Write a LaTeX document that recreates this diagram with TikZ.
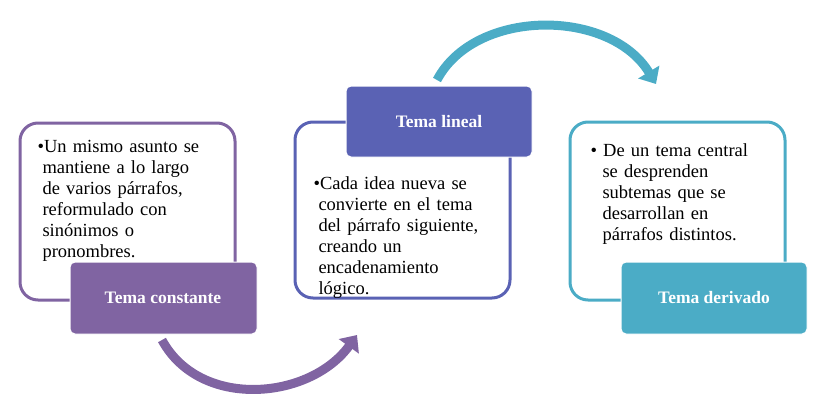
\documentclass[tikz,border=0pt]{standalone}
\usepackage{fontspec}
\setmainfont{Liberation Serif}
\usetikzlibrary{arrows.meta}
\definecolor{cpur}{HTML}{8064A2}
\definecolor{cblu}{HTML}{5A62B4}
\definecolor{ccya}{HTML}{4BACC6}
\begin{document}
\begin{tikzpicture}[x=1pt,y=-1pt,
 outer/.style={draw=#1,line width=3pt,rounded corners=18pt,fill=white},
 lab/.style={fill=#1,draw=white,line width=1pt,rounded corners=5pt},
 labt/.style={text=white,font=\bfseries\fontsize{17.5}{20}\selectfont},
 body/.style={align=left,anchor=north west,text width=190pt,font=\fontsize{18.5}{21}\selectfont},
 arc/.style={line width=9pt,#1,-{Triangle[length=14pt,width=24pt]}}]
\useasboundingbox (0,0) rectangle (831,400);
% box 1
\path[outer=cpur] (20,123) rectangle (235,300);
\node[body] (t1) at (34,137) {\textbullet Un mismo asunto se\\\hspace*{5pt}mantiene a lo largo\\\hspace*{5pt}de varios párrafos,\\\hspace*{5pt}reformulado con\\\hspace*{5pt}sinónimos o\\\hspace*{5pt}pronombres.};
\path[lab=cpur] (70,262) rectangle (257,334);
\node[labt] (l1) at (163,298) {Tema constante};
% box 2
\path[outer=cblu] (295,122) rectangle (510,298);
\node[body] (t2) at (310,173) {\textbullet Cada idea nueva se\\\hspace*{5pt}convierte en el tema\\\hspace*{5pt}del párrafo siguiente,\\\hspace*{5pt}creando un\\\hspace*{5pt}encadenamiento\\\hspace*{5pt}lógico.};
\path[lab=cblu] (346,86) rectangle (532,157);
\node[labt] (l2) at (439,122) {Tema lineal};
% box 3
\path[outer=ccya] (570,122) rectangle (785,300);
\node[body] (t3) at (587,140) {\textbullet\ De un tema central\\\hspace*{12pt}se desprenden\\\hspace*{12pt}subtemas que se\\\hspace*{12pt}desarrollan en\\\hspace*{12pt}párrafos distintos.};
\path[lab=ccya] (621,262) rectangle (807,334);
\node[labt] (l3) at (714,298) {Tema derivado};
% arrows
\coordinate (a1) at (162,340);
\coordinate (b1) at (357,335);
\draw[arc=cpur] (a1) .. controls (200,410) and (310,400) .. (b1);
\coordinate (a2) at (437,80);
\coordinate (b2) at (656,84);
\draw[arc=ccya] (a2) .. controls (475,8) and (610,8) .. (b2);
\end{tikzpicture}
\end{document}
